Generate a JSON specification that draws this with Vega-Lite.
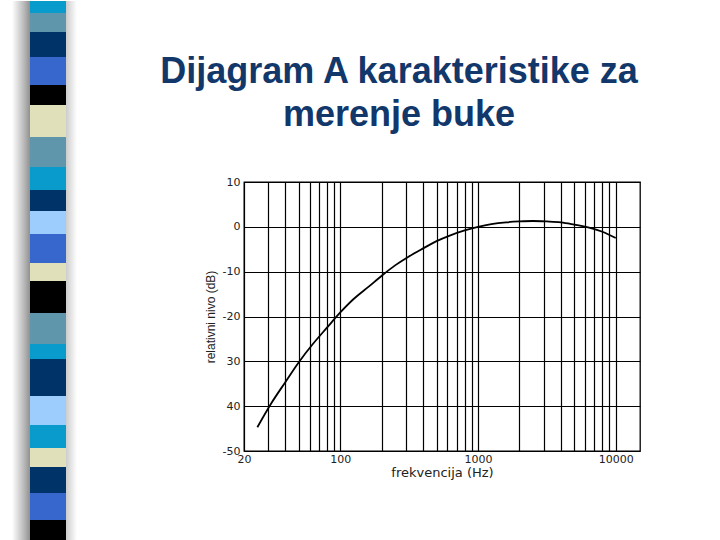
{
  "$schema": "https://vega.github.io/schema/vega-lite/v6.json",
  "background": "white",
  "padding": 0,
  "spacing": 80,
  "resolve": {"scale": {"x": "independent", "y": "independent", "color": "independent"}},
  "hconcat": [
    {
      "width": 78,
      "height": 540,
      "view": {"stroke": null},
      "layer": [
        {
          "data": {"values": [{"part": "left shadow"}]},
          "mark": {"type": "rect", "color": {"gradient": "linear", "x1": 0, "x2": 1, "y1": 0, "y2": 0, "stops": [{"offset": 0, "color": "#ffffff"}, {"offset": 0.6, "color": "#bdbdbd"}, {"offset": 1, "color": "#8a8a8a"}]}},
          "encoding": {
            "x": {"datum": 12, "type": "quantitative", "scale": {"domain": [0, 78], "nice": false, "zero": false}, "axis": null},
            "x2": {"datum": 31},
            "y": {"datum": 0, "type": "quantitative", "scale": {"domain": [0, 540], "reverse": true, "nice": false}, "axis": null},
            "y2": {"datum": 540}
          }
        },
        {
          "data": {"values": [{"part": "right shadow"}]},
          "mark": {"type": "rect", "color": {"gradient": "linear", "x1": 0, "x2": 1, "y1": 0, "y2": 0, "stops": [{"offset": 0, "color": "#c8c8c8"}, {"offset": 1, "color": "#ffffff"}]}},
          "encoding": {
            "x": {"datum": 65, "type": "quantitative"},
            "x2": {"datum": 77},
            "y": {"datum": 0, "type": "quantitative"},
            "y2": {"datum": 540}
          }
        },
        {
          "data": {"values": [
            {"idx": 1, "len": 12, "tone": "cyan"},
            {"idx": 2, "len": 19, "tone": "steel"},
            {"idx": 3, "len": 25, "tone": "navy"},
            {"idx": 4, "len": 28, "tone": "royal"},
            {"idx": 5, "len": 20, "tone": "black"},
            {"idx": 6, "len": 32, "tone": "beige"},
            {"idx": 7, "len": 30, "tone": "steel"},
            {"idx": 8, "len": 23, "tone": "cyan"},
            {"idx": 9, "len": 21, "tone": "navy"},
            {"idx": 10, "len": 23, "tone": "light"},
            {"idx": 11, "len": 29, "tone": "royal"},
            {"idx": 12, "len": 18, "tone": "beige"},
            {"idx": 13, "len": 32, "tone": "black"},
            {"idx": 14, "len": 31, "tone": "steel"},
            {"idx": 15, "len": 15, "tone": "cyan"},
            {"idx": 16, "len": 37, "tone": "navy"},
            {"idx": 17, "len": 29, "tone": "light"},
            {"idx": 18, "len": 23, "tone": "cyan"},
            {"idx": 19, "len": 19, "tone": "beige"},
            {"idx": 20, "len": 26, "tone": "navy"},
            {"idx": 21, "len": 27, "tone": "royal"},
            {"idx": 22, "len": 21, "tone": "black"}
          ]},
          "transform": [{"stack": "len", "groupby": [], "sort": [{"field": "idx", "order": "ascending"}], "as": ["y0", "y1"]}],
          "mark": {"type": "rect"},
          "encoding": {
            "x": {"datum": 30, "type": "quantitative"},
            "x2": {"datum": 66},
            "y": {"field": "y0", "type": "quantitative"},
            "y2": {"field": "y1"},
            "color": {
              "field": "tone", "type": "nominal", "legend": null,
              "scale": {"domain": ["cyan", "steel", "navy", "royal", "black", "beige", "light"], "range": ["#0a9bcd", "#5f96ac", "#003468", "#3767cc", "#000000", "#e0e0bb", "#9dcdfd"]}
            }
          }
        }
      ]
    },
    {
      "spacing": 0,
      "vconcat": [
        {
          "width": 10,
          "height": 52,
          "view": {"stroke": null},
          "data": {"values": [{"part": "spacer"}]},
          "mark": {"type": "rule", "opacity": 0},
          "encoding": {}
        },
        {
          "width": 396,
          "height": 269,
          "view": {"stroke": "#000000", "strokeWidth": 1.3},
          "title": {
            "text": ["Dijagram A karakteristike za", "merenje buke"],
            "font": "Liberation Sans",
            "fontSize": 36,
            "fontWeight": "bold",
            "color": "#12376a",
            "lineHeight": 43,
            "anchor": "middle",
            "frame": "group",
            "dx": -43,
            "offset": 42
          },
          "data": {"values": [
            {"f": 25, "db": -44.7},
            {"f": 31.5, "db": -39.4},
            {"f": 40, "db": -34.6},
            {"f": 50, "db": -30.2},
            {"f": 63, "db": -26.2},
            {"f": 80, "db": -22.5},
            {"f": 100, "db": -19.1},
            {"f": 125, "db": -16.1},
            {"f": 160, "db": -13.4},
            {"f": 200, "db": -10.9},
            {"f": 250, "db": -8.6},
            {"f": 315, "db": -6.6},
            {"f": 400, "db": -4.8},
            {"f": 500, "db": -3.2},
            {"f": 630, "db": -1.9},
            {"f": 800, "db": -0.8},
            {"f": 1000, "db": 0.0},
            {"f": 1250, "db": 0.6},
            {"f": 1600, "db": 1.0},
            {"f": 2000, "db": 1.2},
            {"f": 2500, "db": 1.3},
            {"f": 3150, "db": 1.2},
            {"f": 4000, "db": 1.0},
            {"f": 5000, "db": 0.5},
            {"f": 6300, "db": -0.1},
            {"f": 8000, "db": -1.1},
            {"f": 10000, "db": -2.5}
          ]},
          "mark": {"type": "line", "color": "#000000", "strokeWidth": 1.8, "interpolate": "monotone"},
          "encoding": {
            "x": {
              "field": "f", "type": "quantitative",
              "scale": {"type": "log", "domain": [20, 15000], "nice": false},
              "axis": {
                "title": "frekvencija (Hz)",
                "values": [20, 30, 40, 50, 60, 70, 80, 90, 100, 200, 300, 400, 500, 600, 700, 800, 900, 1000, 2000, 3000, 4000, 5000, 6000, 7000, 8000, 9000, 10000],
                "labelExpr": "(datum.value == 20 || datum.value == 100 || datum.value == 1000 || datum.value == 10000) ? '' + datum.value : ''",
                "grid": true, "gridColor": "#000000", "gridOpacity": 1, "gridWidth": 1.2,
                "ticks": false, "domain": false,
                "labelFont": "DejaVu Sans", "labelFontSize": 11, "labelColor": "#222222",
                "labelPadding": 2, "labelFlush": false, "labelOverlap": false,
                "titleFont": "DejaVu Sans", "titleFontSize": 13, "titleFontWeight": "normal", "titleColor": "#222222",
                "titlePadding": 2
              }
            },
            "y": {
              "field": "db", "type": "quantitative",
              "scale": {"domain": [-50, 10], "nice": false, "zero": false},
              "axis": {
                "title": "relativni nivo (dB)",
                "values": [-50, -40, -30, -20, -10, 0, 10],
                "labelExpr": "datum.value == -30 ? '30' : datum.value == -40 ? '40' : '' + datum.value",
                "grid": true, "gridColor": "#000000", "gridOpacity": 1, "gridWidth": 1.2,
                "ticks": false, "domain": false,
                "labelFont": "DejaVu Sans", "labelFontSize": 11, "labelColor": "#222222",
                "labelPadding": 4,
                "titleFont": "Liberation Sans", "titleFontSize": 12, "titleFontWeight": "normal", "titleColor": "#222222",
                "titlePadding": 5
              }
            }
          }
        }
      ]
    }
  ]
}
